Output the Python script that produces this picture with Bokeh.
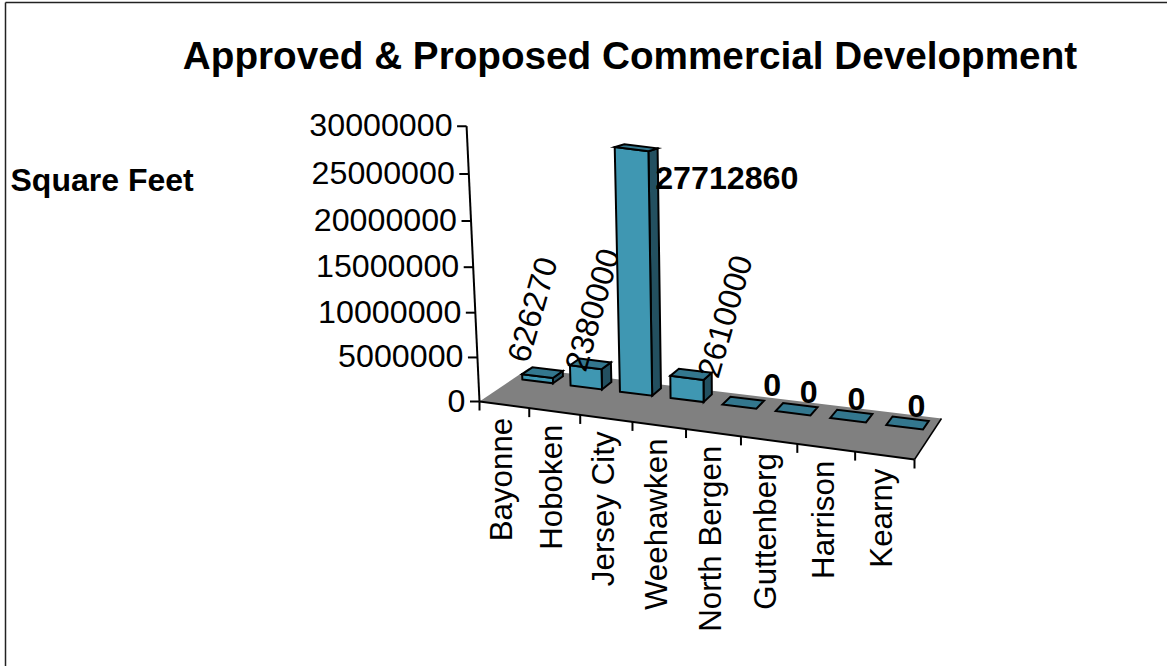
import numpy as np
from bokeh.core.properties import value
from bokeh.embed import file_html
from bokeh.models import Range1d
from bokeh.plotting import figure
from bokeh.resources import INLINE

# Chart content
title_text = "Approved & Proposed Commercial Development"
value_title = "Square Feet"
categories = ["Bayonne", "Hoboken", "Jersey City", "Weehawken",
              "North Bergen", "Guttenberg", "Harrison", "Kearny"]
square_feet = [626270, 2380000, 27712860, 2610000, 0, 0, 0, 0]
value_ticks = [0, 5000000, 10000000, 15000000, 20000000, 25000000, 30000000]

FONT = value("Liberation Sans")
FRONT, TOP, SIDE = "#3f97b2", "#33778e", "#235060"
FLOOR = "#808080"
INK = "#000000"

n = len(categories)

# Floor corners on the page and the foreshortening along the category direction
FRONT_LEFT, FRONT_RIGHT = np.array([479.0, 401.0]), np.array([914.0, 459.0])
BACK_LEFT, BACK_RIGHT = np.array([528.0, 368.0]), np.array([941.0, 418.0])
FORESHORTEN = -0.012
# Vertical lines meet far below the floor, so heights open up towards the top.
HEIGHT_W = -1.59e-9
VANISH = np.array([737.0, 5898.0])


def edge(a, b, u):
    t = u / n
    t = t * (1 + n * FORESHORTEN) / (1 + u * FORESHORTEN)
    return a + (b - a) * t


def project(u, d, v=0.0):
    base = (1 - d) * edge(FRONT_LEFT, FRONT_RIGHT, u) + d * edge(BACK_LEFT, BACK_RIGHT, u)
    s = HEIGHT_W * v * (1 - 0.05 * d)
    q = (base + s * VANISH) / (1 + s)
    return float(q[0]), float(q[1])


def column_point(u, d, v, d_front):
    """Point on a column; the top face flattens as it nears eye level."""
    x, y = project(u, d, v)
    _, y_front = project(u, d_front, v)
    return x, y_front + (y - y_front) * (1 - 1.5e-8 * v)


def face(points):
    xy = [project(*pt) for pt in points]
    return [q[0] for q in xy], [q[1] for q in xy]


p = figure(width=1167, height=666, output_backend="svg", toolbar_location=None,
           x_range=Range1d(0, 1167), y_range=Range1d(666, 0),
           x_axis_type=None, y_axis_type=None, min_border=0,
           background_fill_color="white", border_fill_color="white",
           outline_line_color=None)
p.grid.visible = False


def polygon(points, fill, width=2.0):
    xs = [q[0] for q in points]
    ys = [q[1] for q in points]
    p.patch(xs, ys, fill_color=fill, line_color=INK, line_width=width, line_join="miter")


def seg(x0, y0, x1, y1, width=2.0, color=INK):
    p.line([x0, x1], [y0, y1], line_color=color, line_width=width, line_cap="butt")


def label(x, y, text, size="32.2px", style="normal", angle=0.0, align="left", baseline="middle"):
    p.text([x], [y], text=[text], text_font=FONT, text_font_size=size,
           text_font_style=style, angle=[angle], text_align=align,
           text_baseline=baseline, text_color=INK)


# Frame of the chart area
seg(5, 2, 1167, 2, 1.5, "#222222")
seg(5, 2, 5, 666, 1.5, "#222222")

label(629.5, 55, title_text, size="38.7px", style="bold", align="center")
label(10, 179, value_title, size="32px", style="bold")

# Floor
fx, fy = face([(0, 0), (n, 0), (n, 1), (0, 1)])
p.patch(fx, fy, fill_color=FLOOR, line_color=None)
seg(*project(0, 0), *project(n, 0))
seg(*project(n, 0), *project(n, 1), 1.5)

# Height axis with its tick labels
seg(*project(0, 0), *project(0, 0, value_ticks[-1]))
for tick in value_ticks:
    x, y = project(0, 0, tick)
    seg(x - 9.5, y, x, y)
    label(x - 14, y - 1, str(tick), align="right")

# Category ticks and labels along the front edge
for i in range(n + 1):
    x, y = project(i, 0)
    seg(x, y, x, y + 9)
for i, name in enumerate(categories):
    x, y = project(i + 0.5, 0)
    label(x - 3, y + 13, name, size="31.3px", angle=np.pi / 2, align="right")

# Columns, drawn left to right so later ones cover earlier labels
HALF_WIDTH = 0.32
D0, D1 = 0.70, 0.91
label_nudges = [(-10, -63), (2, -54), (19, 30), (34, -58),
                (29, -18), (12, -17), (5, -17), (9, -17)]
TILT = np.radians(74)
for i, amount in enumerate(square_feet):
    c = i + 0.5
    u0, u1 = c - HALF_WIDTH, c + HALF_WIDTH
    pt = lambda u, d, v: column_point(u, d, v, D0)
    if amount > 0:
        polygon([pt(u1, D0, 0), pt(u1, D1, 0), pt(u1, D1, amount), pt(u1, D0, amount)], SIDE)
        polygon([pt(u0, D0, 0), pt(u1, D0, 0), pt(u1, D0, amount), pt(u0, D0, amount)], FRONT)
    polygon([pt(u0, D0, amount), pt(u1, D0, amount), pt(u1, D1, amount), pt(u0, D1, amount)], TOP)
    x, y = pt(c, (D0 + D1) / 2, amount)
    dx, dy = label_nudges[i]
    if amount == 0:
        label(x + dx, y + dy, str(amount), style="bold", align="center")
    elif amount > 10000000:
        label(x + dx, y + dy, str(amount), style="bold")
    else:
        label(x + dx, y + dy, str(amount), angle=TILT, align="center")

open("out.html", "w").write(file_html(p, INLINE))
